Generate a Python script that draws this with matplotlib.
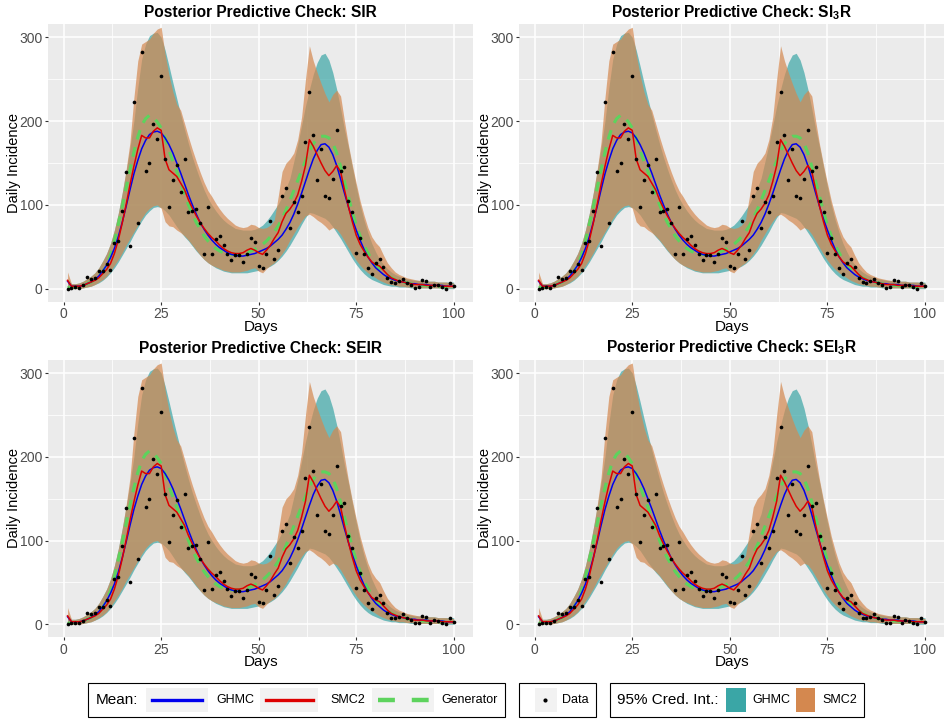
import numpy as np
import matplotlib.pyplot as plt
from matplotlib.patches import Rectangle

plt.rcParams['font.family'] = ['Liberation Sans', 'DejaVu Sans']
plt.rcParams['mathtext.fontset'] = 'custom'
plt.rcParams['mathtext.rm'] = 'Liberation Sans'
plt.rcParams['mathtext.bf'] = 'Liberation Sans:bold'

# ---- data ----
days = np.arange(1, 101)
models = ['SIR', r'SI$\mathbf{_3}$R', 'SEIR', r'SEI$\mathbf{_3}$R']

observed = [0, 1, 2, 1, 4, 14, 12, 13, 21, 21,
            29, 22, 54, 57, 93, 139, 51, 223, 78, 282,
            140, 150, 197, 179, 254, 155, 98, 130, 148, 116,
            155, 91, 93, 95, 78, 41, 98, 42, 59, 63,
            52, 42, 34, 40, 40, 32, 41, 60, 56, 27,
            25, 41, 81, 35, 46, 111, 120, 73, 104, 91,
            111, 175, 235, 183, 130, 167, 111, 108, 131, 189,
            141, 145, 105, 91, 43, 61, 41, 25, 18, 31,
            35, 26, 13, 8, 7, 9, 12, 7, 5, 1,
            2, 10, 9, 2, 5, 4, 2, 0, 7, 3]

generator = [1, 2, 2, 3, 4, 6, 8, 11, 15, 20,
             28, 40, 57, 77, 98, 120, 142, 163, 181, 195,
             203, 207, 205, 199, 192, 180, 165, 152, 140, 127,
             113, 100, 89, 79, 71, 63, 57, 52, 48, 45,
             43, 41, 41, 41, 41, 42, 43, 45, 47, 50,
             53, 57, 62, 68, 75, 84, 94, 105, 117, 129,
             141, 153, 164, 173, 179, 182, 182, 180, 174, 162,
             146, 128, 110, 92, 76, 63, 52, 43, 35, 29,
             24, 20, 16, 13, 11, 9, 8, 7, 6, 5,
             5, 4, 4, 3, 3, 3, 3, 2, 2, 2]

ghmc_mean = [9, 3, 3, 3, 4, 6, 8, 11, 15, 21,
             28, 37, 48, 62, 79, 98, 118, 137, 153, 167,
             177, 184, 187, 188, 186, 180, 172, 162, 150, 138,
             125, 112, 100, 89, 79, 71, 64, 58, 53, 49,
             46, 43, 41, 40, 39, 39, 40, 41, 42, 44,
             46, 48, 51, 55, 59, 64, 71, 79, 89, 101,
             114, 128, 142, 155, 165, 172, 173, 169, 160, 147,
             131, 114, 98, 83, 70, 58, 47, 38, 31, 25,
             21, 17, 14, 12, 10, 9, 8, 7, 6, 6,
             5, 5, 5, 4, 4, 4, 4, 3, 3, 3]

ghmc_lo = [1, 0, 0, 1, 1, 2, 3, 5, 7, 10,
           14, 19, 25, 32, 40, 48, 56, 65, 73, 81,
           88, 93, 97, 98, 97, 93, 88, 81, 74, 68,
           62, 57, 51, 45, 40, 35, 31, 28, 25, 23,
           21, 20, 19, 19, 19, 19, 19, 20, 21, 22,
           23, 25, 27, 30, 34, 39, 45, 52, 60, 68,
           77, 85, 91, 90, 88, 86, 84, 80, 74, 67,
           60, 52, 44, 36, 29, 23, 18, 14, 11, 9,
           7, 5, 4, 3, 3, 2, 2, 2, 1, 1,
           1, 1, 1, 1, 1, 1, 0, 0, 0, 0]

ghmc_hi = [12, 6, 6, 7, 9, 12, 15, 19, 25, 33,
           42, 54, 70, 90, 114, 140, 168, 200, 240, 274,
           292, 302, 305, 306, 300, 285, 266, 246, 227, 208,
           190, 173, 157, 143, 130, 118, 108, 100, 93, 87,
           82, 78, 75, 72, 71, 70, 70, 70, 71, 73,
           76, 81, 87, 94, 101, 110, 120, 132, 152, 172,
           195, 218, 238, 256, 270, 279, 281, 273, 258, 238,
           215, 190, 169, 145, 122, 100, 82, 67, 54, 44,
           35, 29, 24, 20, 17, 15, 13, 12, 11, 10,
           10, 9, 9, 9, 9, 8, 8, 8, 8, 8]

smc2_mean = [10, 3, 3, 3, 4, 6, 8, 10, 13, 18,
             23, 30, 42, 58, 78, 100, 124, 146, 166, 183,
             180, 180, 188, 192, 189, 155, 142, 138, 134, 126,
             118, 106, 96, 87, 79, 72, 66, 61, 57, 52,
             48, 45, 43, 42, 42, 43, 46, 48, 46, 43,
             41, 46, 52, 60, 67, 80, 90, 95, 102, 112,
             128, 147, 178, 170, 160, 150, 141, 135, 140, 147,
             140, 118, 98, 80, 64, 53, 45, 38, 32, 29,
             27, 22, 17, 13, 11, 9, 8, 7, 6, 5,
             5, 5, 4, 4, 4, 4, 3, 3, 3, 3]

smc2_lo = [0, 0, 0, 0, 1, 2, 3, 5, 8, 11,
           15, 21, 28, 35, 43, 52, 60, 68, 76, 84,
           91, 96, 99, 100, 96, 80, 75, 74, 70, 67,
           63, 58, 52, 46, 40, 35, 31, 28, 26, 24,
           22, 21, 20, 20, 20, 21, 22, 24, 25, 21,
           19, 24, 28, 31, 36, 42, 49, 58, 66, 74,
           81, 87, 89, 86, 82, 79, 75, 70, 73, 71,
           65, 57, 49, 41, 34, 28, 23, 19, 16, 13,
           10, 8, 6, 5, 4, 3, 3, 2, 2, 2,
           1, 1, 1, 1, 1, 1, 1, 1, 1, 1]

smc2_hi = [20, 6, 6, 7, 9, 12, 15, 19, 25, 33,
           42, 54, 70, 90, 114, 142, 175, 228, 272, 292,
           295, 298, 305, 310, 312, 280, 255, 235, 220, 213,
           197, 181, 166, 152, 139, 127, 117, 110, 102, 95,
           89, 84, 80, 76, 74, 73, 74, 77, 76, 73,
           72, 73, 76, 82, 110, 140, 150, 155, 162, 178,
           205, 250, 290, 272, 258, 245, 233, 223, 232, 237,
           230, 200, 172, 148, 126, 105, 88, 73, 62, 55,
           50, 40, 31, 25, 20, 17, 15, 13, 12, 11,
           10, 10, 9, 9, 9, 8, 8, 8, 7, 7]

teal = '#3AA6A6'
orange = '#D4884F'
blue = '#0000EE'
red = '#DD0000'
green = '#5DD35D'
dash = (0, (3.2, 2.6))

fig = plt.figure(figsize=(9.5, 7.26), dpi=100)

panel_boxes = [
    [0.0508, 0.5844, 0.4471, 0.3826],
    [0.5466, 0.5844, 0.4474, 0.3826],
    [0.0508, 0.1222, 0.4471, 0.3824],
    [0.5466, 0.1222, 0.4474, 0.3824],
]


def draw_panel(ax, model):
    ax.set_facecolor('#EBEBEB')
    ax.fill_between(days, ghmc_lo, ghmc_hi, color=teal, alpha=0.7, lw=0)
    ax.fill_between(days, smc2_lo, smc2_hi, color=orange, alpha=0.7, lw=0)
    ax.plot(days, generator, color=green, lw=2.2, ls=dash)
    ax.plot(days, ghmc_mean, color=blue, lw=1.1)
    ax.plot(days, smc2_mean, color=red, lw=1.1)
    ax.scatter(days, observed, s=7, color='black', lw=0, zorder=5)

    ax.set_xlim(-3.95, 104.95)
    ax.set_ylim(-15.5, 316)
    ax.set_xticks([0, 25, 50, 75, 100])
    ax.set_xticks([12.5, 37.5, 62.5, 87.5], minor=True)
    ax.set_yticks([0, 100, 200, 300])
    ax.set_yticks([50, 150, 250], minor=True)
    ax.grid(which='major', color='white', lw=1.1)
    ax.grid(which='minor', color='white', lw=0.55)
    ax.set_axisbelow(True)
    for s in ax.spines.values():
        s.set_visible(False)
    ax.tick_params(which='major', length=2.5, width=0.8, color='#333333',
                   labelcolor='#4D4D4D', labelsize=10, pad=1.5)
    ax.tick_params(which='minor', length=0)
    ax.set_xlabel('Days', fontsize=11, labelpad=-1)
    ax.set_ylabel('Daily Incidence', fontsize=10.5, labelpad=-1)
    ax.set_title('Posterior Predictive Check: ' + model, fontsize=11.2,
                 fontweight='bold', pad=5)


for box, model in zip(panel_boxes, models):
    ax = fig.add_axes(box)
    draw_panel(ax, model)

# ---- legend row ----
lax = fig.add_axes([0, 0, 1, 1])
lax.set_xlim(0, 950)
lax.set_ylim(726, 0)
lax.axis('off')

ym = 700
key_bg = '#F2F2F2'
lab = 9

lax.add_patch(Rectangle((88, 683), 417, 34, fill=False, ec='black', lw=0.8))
lax.text(96, ym, 'Mean:', fontsize=11, va='center')
lax.add_patch(Rectangle((146, 688), 62, 24, fc=key_bg, ec='none'))
lax.plot([152, 202], [ym, ym], color=blue, lw=2.4)
lax.text(216, ym, 'GHMC', fontsize=lab, va='center')
lax.add_patch(Rectangle((260, 688), 58, 24, fc=key_bg, ec='none'))
lax.plot([266, 313], [ym, ym], color=red, lw=2.4)
lax.text(330, ym, 'SMC2', fontsize=lab, va='center')
lax.add_patch(Rectangle((372, 688), 62, 24, fc=key_bg, ec='none'))
lax.plot([378, 429], [ym, ym], color=green, lw=3.2, ls=(0, (3.8, 3.8)))
lax.text(441, ym, 'Generator', fontsize=lab, va='center')

lax.add_patch(Rectangle((519, 683), 77, 34, fill=False, ec='black', lw=0.8))
lax.add_patch(Rectangle((535, 688), 22, 24, fc=key_bg, ec='none'))
lax.scatter([545], [ym], s=9, color='black', lw=0)
lax.text(562, ym, 'Data', fontsize=lab, va='center')

lax.add_patch(Rectangle((610, 683), 254, 34, fill=False, ec='black', lw=0.8))
lax.text(617, ym, '95% Cred. Int.:', fontsize=11, va='center')
lax.add_patch(Rectangle((726, 688), 20, 24, fc=teal, ec='none'))
lax.text(752, ym, 'GHMC', fontsize=lab, va='center')
lax.add_patch(Rectangle((796, 688), 19, 24, fc=orange, ec='none'))
lax.text(822, ym, 'SMC2', fontsize=lab, va='center')

fig.savefig('out.png', dpi=100)
